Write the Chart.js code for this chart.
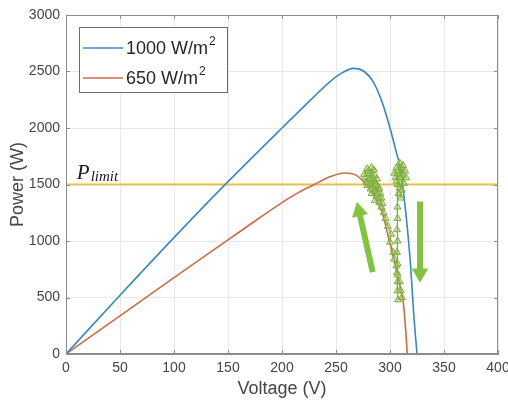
<!DOCTYPE html>
<html>
<head>
<meta charset="utf-8">
<script src="https://cdn.jsdelivr.net/npm/chart.js@4.4.1/dist/chart.umd.min.js"></script>
<style>
  html, body { margin: 0; padding: 0; background: #fff; }
  #wrap { position: relative; width: 508px; height: 400px; }
</style>
</head>
<body>
<div id="wrap"><canvas id="pv"></canvas></div>
<script>
// P-V curves
const voltage1000 = [0, 50, 100, 150, 200, 230, 245, 256, 266, 276, 285, 293, 300, 306, 310, 313, 316, 319, 322, 325]
const power1000 = [0, 520, 1030, 1525, 2000, 2280, 2415, 2490, 2528, 2500, 2400, 2220, 2000, 1780, 1620, 1390, 1120, 790, 350, 0]

const voltage650 = [0, 50, 100, 150, 180, 200, 215, 230, 245, 258, 268, 276, 285, 293, 299, 305, 309, 312, 314, 316]
const power650 = [0, 338, 676, 1010, 1210, 1340, 1428, 1500, 1570, 1602, 1585, 1520, 1400, 1245, 1015, 780, 610, 480, 280, 0]

// operating point track (green triangles)
const trackV = [306, 309, 311, 308, 312, 305, 310, 313, 307, 309, 311, 304, 314, 308, 310, 312, 306, 309, 315, 307,
  307, 307, 306.5, 307, 306.5, 307, 306.5, 307, 307, 307.5,
  311, 310, 309, 307, 306, 304, 303, 300, 301, 298, 296, 294,
  293, 290, 292, 286, 288, 291, 283, 287, 289, 286, 290, 284, 282, 287, 285, 280, 279, 284, 288, 283, 281, 285, 280,
  277, 278, 282, 286, 289, 292, 283, 281, 276, 279, 290, 287]
const trackP = [1650, 1690, 1640, 1600, 1580, 1560, 1540, 1510, 1500, 1470, 1450, 1600, 1620, 1420, 1380, 1670, 1530, 1560, 1560, 1620,
  1300, 1200, 1100, 1000, 900, 800, 720, 640, 560, 480,
  500, 560, 640, 700, 780, 840, 900, 990, 1060, 1130, 1200, 1250,
  1330, 1340, 1380, 1360, 1400, 1420, 1420, 1440, 1480, 1450, 1460, 1470, 1500, 1510, 1540, 1530, 1490, 1560, 1550, 1590, 1600, 1630, 1620,
  1560, 1520, 1460, 1580, 1420, 1300, 1650, 1550, 1590, 1640, 1380, 1490]

// green direction arrows: [tail, head]
const arrowUpV = [284, 271.3]
const arrowUpP = [724, 1264]
const arrowDownV = [327.8, 327.8]
const arrowDownP = [1350, 715]

const pLimit = 1500
const pLimitLabelV = 10

const xTicks = [0, 50, 100, 150, 200, 250, 300, 350, 400]
const yTicks = [0, 500, 1000, 1500, 2000, 2500, 3000]

const blueColor = '#3b87bd'
const orangeColor = '#cc6b47'
const limitColor = '#e6c04a'
const trackColor = '#7aab38'
const arrowColor = '#82c341'
const textColor = '#454545'
const axisColor = '#8c8c8c'

function toPoints(xs, ys) {
  return xs.map(function (v, i) { return { x: v, y: ys[i] } })
}

// box, inner tick marks, P_limit label and legend
const decor = {
  id: 'decor',
  afterDraw: function (chart) {
    const ctx = chart.ctx
    const area = chart.chartArea
    const xs = chart.scales.x
    const ys = chart.scales.y
    ctx.save()
    ctx.strokeStyle = axisColor
    ctx.lineWidth = 1
    ctx.strokeRect(area.left + 0.5, area.top + 0.5, area.right - area.left - 1, area.bottom - area.top - 1)
    ctx.beginPath()
    xTicks.forEach(function (t) {
      const px = Math.round(xs.getPixelForValue(t)) + 0.5
      ctx.moveTo(px, area.bottom); ctx.lineTo(px, area.bottom - 4)
      ctx.moveTo(px, area.top); ctx.lineTo(px, area.top + 4)
    })
    yTicks.forEach(function (t) {
      const py = Math.round(ys.getPixelForValue(t)) + 0.5
      ctx.moveTo(area.left, py); ctx.lineTo(area.left + 4, py)
      ctx.moveTo(area.right, py); ctx.lineTo(area.right - 4, py)
    })
    ctx.stroke()

    // P_limit
    const lx = xs.getPixelForValue(pLimitLabelV)
    const ly = ys.getPixelForValue(pLimit) - 6
    ctx.fillStyle = '#1a1a1a'
    ctx.textBaseline = 'alphabetic'
    ctx.textAlign = 'left'
    ctx.font = 'italic 21px "Liberation Serif", serif'
    ctx.fillText('P', lx, ly)
    const pw = ctx.measureText('P').width
    ctx.font = 'italic 15px "Liberation Serif", serif'
    ctx.fillText('limit', lx + pw + 1, ly + 2)

    // legend
    const bx = area.left + 13, by = area.top + 12, bw = 148, bh = 65
    ctx.fillStyle = '#ffffff'
    ctx.fillRect(bx, by, bw, bh)
    ctx.strokeStyle = '#6e6e6e'
    ctx.strokeRect(bx + 0.5, by + 0.5, bw, bh)
    const rows = [chart.data.datasets[0], chart.data.datasets[1]]
    rows.forEach(function (ds, i) {
      const ry = by + 21 + i * 30
      ctx.strokeStyle = ds.borderColor
      ctx.lineWidth = 1.5
      ctx.beginPath()
      ctx.moveTo(bx + 4, ry); ctx.lineTo(bx + 44, ry)
      ctx.stroke()
      const base = ds.label.replace('²', '')
      ctx.fillStyle = '#262626'
      ctx.textBaseline = 'middle'
      ctx.font = '18px "Liberation Sans", Arial, sans-serif'
      ctx.fillText(base, bx + 47, ry + 1)
      const w = ctx.measureText(base).width
      ctx.font = '12px "Liberation Sans", Arial, sans-serif'
      ctx.fillText('2', bx + 48 + w, ry - 6)
    })
    ctx.restore()
  }
}

const tickFont = { family: '"Liberation Sans", Arial, sans-serif', size: 14 }
const titleFont = { family: '"Liberation Sans", Arial, sans-serif', size: 18 }

function plainTick(value) {
  return String(value)
}

new Chart(document.getElementById('pv'), {
  type: 'line',
  data: {
    datasets: [{
      label: '1000 W/m²',
      data: toPoints(voltage1000, power1000),
      borderColor: blueColor,
      borderWidth: 1.6,
      pointRadius: 0,
      cubicInterpolationMode: 'monotone',
      order: 3
    }, {
      label: '650 W/m²',
      data: toPoints(voltage650, power650),
      borderColor: orangeColor,
      borderWidth: 1.6,
      pointRadius: 0,
      cubicInterpolationMode: 'monotone',
      order: 4
    }, {
      label: 'Plimit',
      data: toPoints([0, 400], [pLimit, pLimit]),
      borderColor: limitColor,
      borderWidth: 1.8,
      pointRadius: 0,
      order: 5
    }, {
      label: 'track',
      data: toPoints(trackV, trackP),
      borderColor: trackColor,
      borderWidth: 1,
      pointStyle: 'triangle',
      pointRadius: 4,
      pointBorderWidth: 1,
      pointBorderColor: trackColor,
      pointBackgroundColor: 'rgba(170,205,120,0.45)',
      order: 2
    }, {
      label: 'up',
      data: toPoints(arrowUpV, arrowUpP),
      borderColor: arrowColor,
      backgroundColor: arrowColor,
      borderWidth: 6,
      pointStyle: 'triangle',
      pointRadius: [0, 9.5],
      pointBorderWidth: 0,
      pointRotation: -13,
      order: 1
    }, {
      label: 'down',
      data: toPoints(arrowDownV, arrowDownP),
      borderColor: arrowColor,
      backgroundColor: arrowColor,
      borderWidth: 6,
      pointStyle: 'triangle',
      pointRadius: [0, 9.5],
      pointBorderWidth: 0,
      pointRotation: 180,
      order: 1
    }]
  },
  options: {
    responsive: true,
    maintainAspectRatio: false,
    animation: false,
    layout: { padding: { top: 15, right: 10, left: 0, bottom: 0 } },
    plugins: { legend: { display: false }, tooltip: { enabled: false } },
    scales: {
      x: {
        type: 'linear',
        min: 0,
        max: 400,
        ticks: { stepSize: 50, font: tickFont, color: textColor, padding: 6, maxRotation: 0, callback: plainTick },
        grid: { color: '#e8e8e8', drawTicks: false },
        border: { color: axisColor },
        title: { display: true, text: 'Voltage (V)', font: titleFont, color: textColor, padding: { top: 0, bottom: 0 } },
        afterFit: function (s) { s.height = 46; s.paddingLeft = 0; s.paddingRight = 0 }
      },
      y: {
        min: 0,
        max: 3000,
        ticks: { stepSize: 500, font: tickFont, color: textColor, padding: 6, callback: plainTick },
        grid: { color: '#e8e8e8', drawTicks: false },
        border: { color: axisColor },
        title: { display: true, text: 'Power (W)', font: titleFont, color: textColor, padding: { top: 7, bottom: 0 } },
        afterFit: function (s) { s.width = 66; s.paddingTop = 0; s.paddingBottom = 0 }
      }
    }
  },
  plugins: [decor]
})
</script>
</body>
</html>
